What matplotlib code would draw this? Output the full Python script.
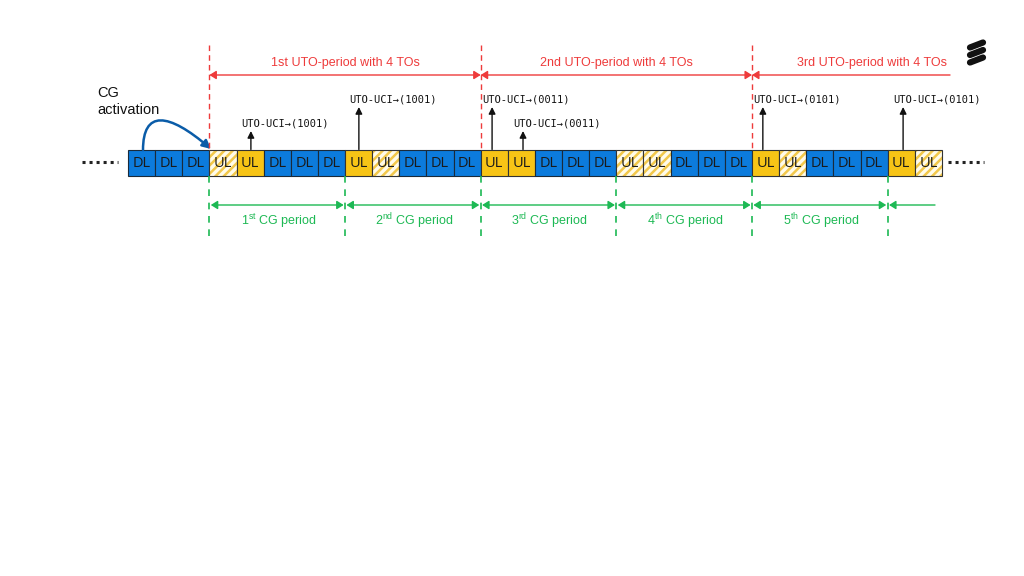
import matplotlib
matplotlib.use("Agg")
import matplotlib.pyplot as plt
from matplotlib.patches import Rectangle, FancyArrowPatch
from matplotlib.path import Path

plt.rcParams["font.family"] = ["Liberation Sans", "DejaVu Sans"]
plt.rcParams["mathtext.fontset"] = "custom"
plt.rcParams["mathtext.rm"] = "Liberation Sans"
plt.rcParams["hatch.linewidth"] = 1.8

# ---- data ----
slot_types = (["DL", "DL", "DL", "UL", "UL"] * 6)
# 1 = used (solid), 0 = unused (hatched) for UL slots, in order
ul_used = [0, 1, 1, 0, 1, 1, 0, 0, 1, 0, 1, 0]
cg_labels = ["1$^{\\rm st}$ CG period", "2$^{\\rm nd}$ CG period", "3$^{\\rm rd}$ CG period",
             "4$^{\\rm th}$ CG period", "5$^{\\rm th}$ CG period"]
cg_starts = [3, 8, 13, 18, 23, 28]
uto_labels = ["1st UTO-period with 4 TOs", "2nd UTO-period with 4 TOs",
              "3rd UTO-period with 4 TOs"]
uto_starts = [3, 13, 23]
uci_slots = [4.53, 8.51, 13.42, 14.56, 23.4, 28.57]
uci_texts = ["UTO-UCI\u2192(1001)", "UTO-UCI\u2192(1001)", "UTO-UCI\u2192(0011)",
             "UTO-UCI\u2192(0011)", "UTO-UCI\u2192(0101)", "UTO-UCI\u2192(0101)"]
uci_high = [False, True, True, False, True, True]

BLUE = "#0C7BDC"
YELLOW = "#F7C416"
RED = "#EE3B3B"
GREEN = "#1DB954"

x0px, wpx = 128.0, 27.13
fig = plt.figure(figsize=(10.24, 5.76), dpi=100)
ax = fig.add_axes([0, 0, 1, 1])
ax.set_xlim(-x0px / wpx, (1024 - x0px) / wpx)
ax.set_ylim(576, 0)
ax.axis("off")

def px(v):
    return (v - x0px) / wpx

top, bot = 149.5, 176
ui = 0
for i, t in enumerate(slot_types):
    if t == "DL":
        ax.add_patch(Rectangle((i, top), 1, bot - top, facecolor=BLUE, edgecolor="#1a2a3a", lw=0.8))
    else:
        used = ul_used[ui]; ui += 1
        if used:
            ax.add_patch(Rectangle((i, top), 1, bot - top, facecolor=YELLOW, edgecolor="#333333", lw=0.8))
        else:
            ax.add_patch(Rectangle((i, top), 1, bot - top, facecolor="#FFFBEA", edgecolor="#F2C84B",
                                   hatch="////", lw=0))
            ax.add_patch(Rectangle((i, top), 1, bot - top, facecolor="none", edgecolor="#333333", lw=0.8))
    ax.text(i + 0.5, (top + bot) / 2 + 0.5, t, ha="center", va="center", fontsize=10.5,
            color="#1a1a1a", family="Open Sans")

# dotted continuation
ax.plot([px(82), px(118)], [162, 162], color="#222222", lw=2.2, ls=(0, (1, 1.3)))
ax.plot([px(948), px(984)], [162, 162], color="#222222", lw=2.2, ls=(0, (1, 1.3)))

# red UTO periods
uto_bounds = uto_starts + [px(950)]
for s in uto_starts:
    ax.plot([s, s], [45, top], color=RED, lw=1, ls=(0, (4, 3)))
for k, lab in enumerate(uto_labels):
    a, b = uto_bounds[k], uto_bounds[k + 1]
    style = "<|-|>" if k < 2 else "<|-"
    ax.add_patch(FancyArrowPatch((a, 75), (b, 75), arrowstyle=style + ",head_length=4,head_width=2.5",
                                 color=RED, lw=1, shrinkA=0, shrinkB=0))
    xc = (a + b) / 2 if k < 2 else px(872)
    ax.text(xc, 63, lab, ha="center", va="center", fontsize=9, color=RED)

# green CG periods
for s in cg_starts:
    ax.plot([s, s], [bot, 240], color=GREEN, lw=1.2, ls=(0, (4, 4)))
for k, lab in enumerate(cg_labels):
    a, b = cg_starts[k], cg_starts[k + 1]
    ax.add_patch(FancyArrowPatch((a, 205), (b, 205), arrowstyle="<|-|>,head_length=4,head_width=2.5",
                                 color=GREEN, lw=1, shrinkA=1, shrinkB=1))
    ax.text((a + b) / 2 + 0.05, 221, lab, ha="center", va="center", fontsize=9, color=GREEN)
ax.add_patch(FancyArrowPatch((cg_starts[-1], 205), (px(935), 205),
                             arrowstyle="<|-,head_length=4,head_width=2.5",
                             color=GREEN, lw=1, shrinkA=1, shrinkB=0))

# UTO-UCI annotations
for s, t, h in zip(uci_slots, uci_texts, uci_high):
    ytop = 107 if h else 131
    ax.add_patch(FancyArrowPatch((s, top), (s, ytop), arrowstyle="-|>,head_length=4,head_width=2",
                                 color="#111111", lw=1, shrinkA=0, shrinkB=0))
    ax.text(s - 0.37, ytop - 8, t, ha="left", va="center", fontsize=7.5,
            family="DejaVu Sans Mono", color="#111111")

# CG activation
ax.text(px(97), 93, "CG", fontsize=10.5, va="center", ha="left", color="#111111")
ax.text(px(97), 110, "activation", fontsize=10.5, va="center", ha="left", color="#111111")
verts = [(px(143), 150), (px(143), 110), (px(168), 112), (px(211), 149)]
path = Path(verts, [Path.MOVETO, Path.CURVE4, Path.CURVE4, Path.CURVE4])
ax.add_patch(FancyArrowPatch(path=path, arrowstyle="-|>,head_length=5,head_width=2.5",
                             color="#0A5CA8", lw=1.8))

# logo
for dy in [0, 7.5, 15]:
    ax.plot([px(970), px(983)], [47.5 + dy, 42.5 + dy], color="#111111", lw=4.5, solid_capstyle="round")

fig.savefig("out.png", dpi=100)
